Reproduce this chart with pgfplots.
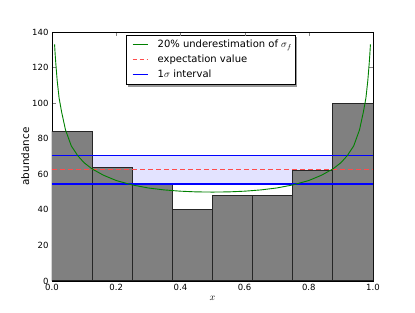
\documentclass[border=0pt]{standalone}
\usepackage{pgfplots}
\pgfplotsset{compat=1.18}
\usepackage{fontspec}
\setmainfont{DejaVu Sans}
\pgfdeclarelayer{background}
\pgfsetlayers{background,main}
\definecolor{mplgreen}{rgb}{0,0.5,0}
\definecolor{mplred}{rgb}{1,0.3,0.3}
\definecolor{mplblue}{rgb}{0,0,1}
\definecolor{bandblue}{rgb}{0.89,0.89,1.0}
\definecolor{bargray}{rgb}{0.5,0.5,0.5}
\definecolor{shadowgray}{rgb}{0.6,0.6,0.6}
\begin{document}
\begin{tikzpicture}[font=\fontsize{8.5}{10}\selectfont]
\path[use as bounding box] (-52pt,-32pt) rectangle (363pt,281pt);
\begin{axis}[
  at={(0,0)}, anchor=south west,
  scale only axis, width=321pt, height=249pt,
  xmin=0, xmax=1, ymin=0, ymax=140,
  xtick={0,0.2,0.4,0.6,0.8,1.0},
  ytick={0,20,40,60,80,100,120,140},
  xticklabel style={/pgf/number format/.cd, fixed, fixed zerofill, precision=1},
  /pgf/number format/assume math mode=true,
  tick label style={font=\fontsize{8.5}{10}\selectfont},
  label style={font=\fontsize{10.4}{12}\selectfont},
  tick align=inside, tick pos=both,
  major tick length=4pt,
  axis line style={black, line width=0.8pt},
  xlabel={$x$}, ylabel={abundance},
  xlabel style={yshift=2pt},
  ylabel style={yshift=-4pt},
  legend style={name=leg, at={(0.495,0.988)}, anchor=north, draw=none, fill=none,
    font=\fontsize{10}{12}\selectfont, row sep=2pt, inner xsep=1pt, inner ysep=3pt},
  legend cell align=left,
  legend image code/.code={\draw[#1] (5pt,0pt) -- (20pt,0pt);
    \pgfpathmoveto{\pgfqpoint{0pt}{0pt}}\pgfpathlineto{\pgfqpoint{28pt}{0pt}}\pgfusepath{}},
]
% shaded 1-sigma band
\addplot[draw=none, fill=bandblue, forget plot] coordinates {(0,54.5) (1,54.5) (1,70.4) (0,70.4)};
% histogram
\addplot[ybar interval, fill=bargray, draw=black!85, line width=1pt, forget plot] coordinates {
(0,84) (0.125,64) (0.25,54) (0.375,40) (0.5,48) (0.625,48) (0.75,62) (0.875,100) (1,100)};
% 1-sigma interval edges
\addplot[color=mplblue, draw=mplblue, line width=1.3pt, forget plot] coordinates {(0,54.5) (1,54.5)};
\addplot[color=mplblue, draw=mplblue, line width=1.3pt, forget plot] coordinates {(0,70.4) (1,70.4)};
% expectation value
\addplot[color=mplred, draw=mplred, line width=1.3pt, dash pattern=on 5pt off 3pt, forget plot] coordinates {(0,62.6) (1,62.6)};
% green curve
\addplot[color=mplgreen, draw=mplgreen, line width=0.9pt, forget plot] coordinates {
(0.008,133) (0.010,127) (0.012,122) (0.016,113) (0.022,103) (0.03,95) (0.042,85) (0.06,76) (0.08,70.5) (0.1,66.5) (0.125,63) (0.16,59.5) (0.2,56.5) (0.25,54) (0.3,52.3) (0.35,51.2) (0.4,50.5) (0.45,50.1) (0.5,50)
(0.55,50.1) (0.6,50.5) (0.65,51.2) (0.7,52.3) (0.75,54) (0.8,56.5) (0.84,59.5) (0.875,63) (0.9,66.5) (0.92,70.5) (0.94,76) (0.958,85) (0.97,95) (0.978,103) (0.984,113) (0.988,122) (0.990,127) (0.992,133)};
\addlegendimage{color=mplgreen, draw=mplgreen, line width=1.1pt}
\addlegendentry{20\% underestimation of $\sigma_f$}
\addlegendimage{color=mplred, draw=mplred, line width=1.1pt, dash pattern=on 4pt off 3pt}
\addlegendentry{expectation value}
\addlegendimage{color=mplblue, draw=mplblue, line width=1.1pt}
\addlegendentry{1$\sigma$ interval}
\end{axis}
\begin{pgfonlayer}{background}
\fill[shadowgray] ([xshift=2pt,yshift=-2pt]leg.south west) rectangle ([xshift=2pt,yshift=-2pt]leg.north east);
\filldraw[fill=white, draw=black, line width=0.8pt] (leg.south west) rectangle (leg.north east);
\end{pgfonlayer}
\end{tikzpicture}
\end{document}
